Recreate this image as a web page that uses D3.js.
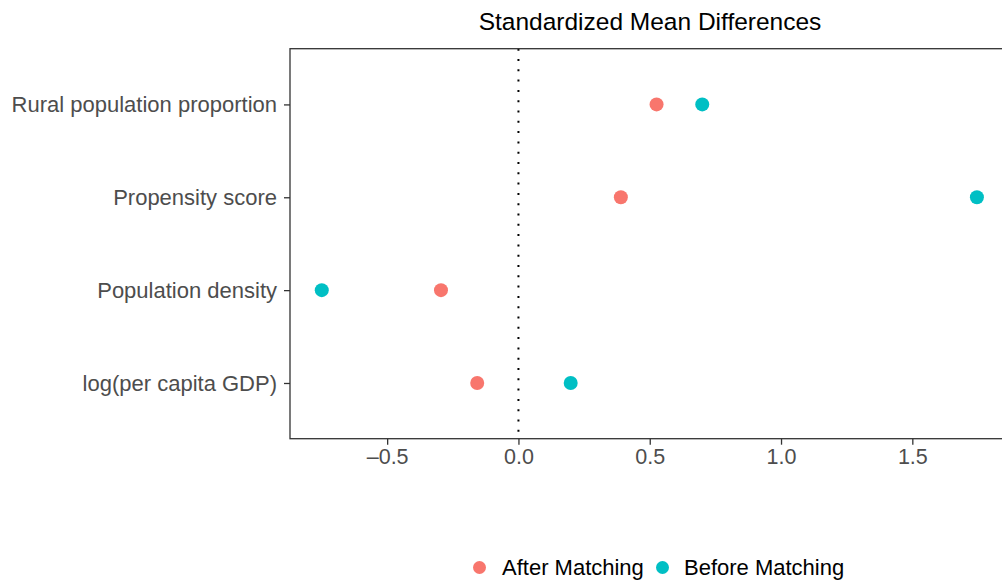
<!DOCTYPE html>
<html>
<head>
<meta charset="utf-8">
<script src="https://cdn.jsdelivr.net/npm/d3@7"></script>
<style>
  body { margin: 0; background: #fff; }
  svg { display: block; font-family: "Liberation Sans", Arial, Helvetica, sans-serif; }
</style>
</head>
<body>
<svg id="chart" width="1002" height="584"></svg>
<script>
// covariates, top to bottom
const covariates = ["Rural population proportion", "Propensity score", "Population density", "log(per capita GDP)"];
// standardized mean differences
const afterMatching = [0.526, 0.390, -0.295, -0.157];
const beforeMatching = [0.700, 1.746, -0.749, 0.199];
const xTicks = [-0.5, 0, 0.5, 1, 1.5];
const seriesNames = ["After Matching", "Before Matching"];
const seriesColors = ["#F8766D", "#00BFC4"];

const svg = d3.select("#chart");
const panel = {left: 290, right: 1010, top: 48.7, bottom: 438.7};

const x = d3.scaleLinear().domain([-0.870, 1.872]).range([panel.left, panel.right]);
const y = d3.scalePoint().domain(covariates).range([panel.top, panel.bottom]).padding(0.6);

// title
svg.append("text")
  .attr("x", 650).attr("y", 30)
  .attr("text-anchor", "middle")
  .attr("font-size", 24.5)
  .attr("fill", "#000")
  .text("Standardized Mean Differences");

// zero reference line
svg.append("line")
  .attr("x1", x(0)).attr("x2", x(0))
  .attr("y1", panel.top).attr("y2", panel.bottom)
  .attr("stroke", "#000").attr("stroke-width", 2)
  .attr("stroke-dasharray", "2,8.3");

// axes
const xAxis = d3.axisBottom(x).tickValues(xTicks).tickSize(6).tickPadding(4)
  .tickFormat(d => d < 0 ? "\u2013" + d3.format(".1f")(-d) : d3.format(".1f")(d));
const gx = svg.append("g").attr("transform", `translate(0,${panel.bottom})`).call(xAxis);
gx.select(".domain").remove();
gx.selectAll(".tick line").attr("stroke", "#333").attr("stroke-width", 1.3);
gx.selectAll(".tick text").attr("font-size", 21.5).attr("fill", "#4D4D4D").attr("font-family", null);

const yAxis = d3.axisLeft(y).tickSize(6).tickPadding(7);
const gy = svg.append("g").attr("transform", `translate(${panel.left},0)`).call(yAxis);
gy.select(".domain").remove();
gy.selectAll(".tick line").attr("stroke", "#333").attr("stroke-width", 1.3);
gy.selectAll(".tick text").attr("font-size", 22).attr("fill", "#4D4D4D").attr("font-family", null);

// panel border
svg.append("rect")
  .attr("x", panel.left).attr("y", panel.top)
  .attr("width", panel.right - panel.left).attr("height", panel.bottom - panel.top)
  .attr("fill", "none").attr("stroke", "#333").attr("stroke-width", 1.3);

// points
const series = [afterMatching, beforeMatching];
series.forEach((vals, i) => {
  svg.append("g").selectAll("circle")
    .data(vals)
    .join("circle")
    .attr("cx", d => x(d))
    .attr("cy", (d, j) => y(covariates[j]))
    .attr("r", 7)
    .attr("fill", seriesColors[i]);
});

// legend
const legendPos = [{cx: 479.5, tx: 502}, {cx: 662.5, tx: 684}];
const legend = svg.append("g");
seriesNames.forEach((name, i) => {
  legend.append("circle")
    .attr("cx", legendPos[i].cx).attr("cy", 567.5).attr("r", 6.5)
    .attr("fill", seriesColors[i]);
  legend.append("text")
    .attr("x", legendPos[i].tx).attr("y", 575)
    .attr("font-size", 22).attr("fill", "#000")
    .text(name);
});
</script>
</body>
</html>
